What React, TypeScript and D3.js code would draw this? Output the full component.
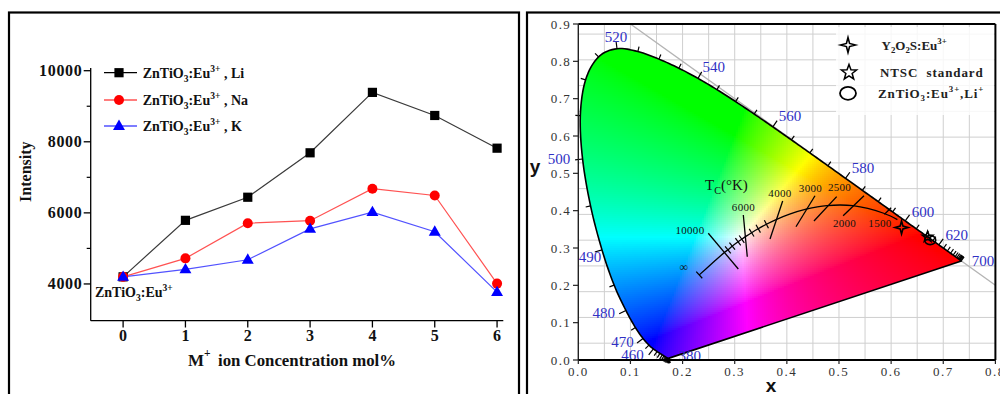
import React, { useMemo } from 'react';
import * as d3 from 'd3';

// ---------------- Left panel data ----------------
const concentrations = [0, 1, 2, 3, 4, 5, 6];
const liIntensity = [4200, 5790, 6440, 7690, 9390, 8740, 7820];
const naIntensity = [4200, 4720, 5710, 5780, 6680, 6490, 4010];
const kIntensity = [4200, 4410, 4680, 5550, 6020, 5470, 3770];
const intensityTicks = [4000, 6000, 8000, 10000];
const intensityMinorTicks = [5000, 7000, 9000];
const concentrationTicks = [0, 1, 2, 3, 4, 5, 6];
const seriesIons = ['Li', 'Na', 'K'];

// ---------------- Right panel data (CIE 1931) ----------------
const locusNm = [380, 385, 390, 395, 400, 405, 410, 415, 420, 425, 430, 435, 440, 445, 450, 455, 460, 465, 470, 475, 480, 485, 490, 495, 500, 505, 510, 515, 520, 525, 530, 535, 540, 545, 550, 555, 560, 565, 570, 575, 580, 585, 590, 595, 600, 605, 610, 615, 620, 625, 630, 635, 640, 645, 650, 655, 660, 665, 670, 680, 690, 700];
const locusX = [0.1741, 0.1740, 0.1738, 0.1736, 0.1733, 0.1730, 0.1726, 0.1721, 0.1714, 0.1703, 0.1689, 0.1669, 0.1644, 0.1611, 0.1566, 0.1510, 0.1440, 0.1355, 0.1241, 0.1096, 0.0913, 0.0687, 0.0454, 0.0235, 0.0082, 0.0039, 0.0139, 0.0389, 0.0743, 0.1142, 0.1547, 0.1929, 0.2296, 0.2658, 0.3016, 0.3373, 0.3731, 0.4087, 0.4441, 0.4788, 0.5125, 0.5448, 0.5752, 0.6029, 0.6270, 0.6482, 0.6658, 0.6801, 0.6915, 0.7006, 0.7079, 0.7140, 0.7190, 0.7230, 0.7260, 0.7283, 0.7300, 0.7311, 0.7320, 0.7334, 0.7344, 0.7347];
const locusY = [0.0050, 0.0050, 0.0049, 0.0049, 0.0048, 0.0048, 0.0048, 0.0048, 0.0051, 0.0058, 0.0069, 0.0086, 0.0109, 0.0138, 0.0177, 0.0227, 0.0297, 0.0399, 0.0578, 0.0868, 0.1327, 0.2007, 0.2950, 0.4127, 0.5384, 0.6548, 0.7502, 0.8120, 0.8338, 0.8262, 0.8059, 0.7816, 0.7543, 0.7243, 0.6923, 0.6589, 0.6245, 0.5896, 0.5547, 0.5202, 0.4866, 0.4544, 0.4242, 0.3965, 0.3725, 0.3514, 0.3340, 0.3197, 0.3083, 0.2993, 0.2920, 0.2859, 0.2809, 0.2770, 0.2740, 0.2717, 0.2700, 0.2689, 0.2680, 0.2666, 0.2656, 0.2653];

const nmLabels = [380, 460, 470, 480, 490, 500, 520, 540, 560, 580, 600, 620, 700];
const nmLabelX = [0.214, 0.104, 0.085, 0.049, 0.0225, -0.037, 0.0723, 0.260, 0.406, 0.546, 0.661, 0.726, 0.776];
const nmLabelY = [0.011, 0.0134, 0.049, 0.125, 0.277, 0.5376, 0.865, 0.786, 0.654, 0.5135, 0.397, 0.335, 0.265];

const planckT = [Infinity, 20000, 15000, 10000, 9000, 8000, 7000, 6500, 6000, 5500, 5000, 4500, 4000, 3500, 3000, 2500, 2000, 1500, 1300];
const planckX = [0.232, 0.2568, 0.2637, 0.2807, 0.2870, 0.2952, 0.3064, 0.3135, 0.3221, 0.3324, 0.3451, 0.3608, 0.3805, 0.4053, 0.4369, 0.4770, 0.5267, 0.5857, 0.612];
const planckY = [0.228, 0.2590, 0.2678, 0.2884, 0.2952, 0.3048, 0.3166, 0.3236, 0.3318, 0.3410, 0.3516, 0.3636, 0.3768, 0.3907, 0.4041, 0.4137, 0.4133, 0.3931, 0.376];
const planckSmallTicks = [Infinity, 9000, 8000, 7000, 6500, 5500, 5000, 4500];

const isoT = ['10000', '6000', '4000', '3000', '2500', '2000', '1500'];
const isoX1 = [0.2493, 0.3165, 0.392, 0.454, 0.4956, 0.548, 0.600];
const isoY1 = [0.3394, 0.3884, 0.426, 0.440, 0.4375, 0.440, 0.408];
const isoX2 = [0.3069, 0.3241, 0.3677, 0.4175, 0.452, 0.508, 0.587];
const isoY2 = [0.2438, 0.2767, 0.3241, 0.357, 0.3724, 0.3866, 0.390];
const isoLabels = ['10000', '6000', '4000', '3000', '2500', '2000', '1500', '\u221e'];
const isoLabelX = [0.2142, 0.3168, 0.3868, 0.4453, 0.501, 0.5106, 0.5786, 0.2027];
const isoLabelY = [0.348, 0.410, 0.4474, 0.4608, 0.4634, 0.3678, 0.3678, 0.249];

const cieTicksX = [0.0, 0.1, 0.2, 0.3, 0.4, 0.5, 0.6, 0.7, 0.8];
const cieTicksY = [0.0, 0.1, 0.2, 0.3, 0.4, 0.5, 0.6, 0.7, 0.8, 0.9];
const gridX = [0.05, 0.1, 0.15, 0.2, 0.25, 0.3, 0.35, 0.4, 0.45, 0.5, 0.55, 0.6, 0.65, 0.7, 0.75];
const gridY = [0.045, 0.114, 0.183, 0.252, 0.321, 0.39, 0.459, 0.528, 0.597, 0.666, 0.735, 0.804, 0.873];

const sampleNames = ['Y2O2S:Eu3+', 'NTSC standard', 'ZnTiO3:Eu3+,Li+'];
const sampleX = [0.620, 0.670, 0.675];
const sampleY = [0.355, 0.330, 0.321];

// ---------------- helpers ----------------
type Part = { t: string; s?: 'sub' | 'sup' };
function rich(parts: Part[], fs: number) {
  let cur = 0;
  return parts.map((p, i) => {
    const target = p.s === 'sub' ? fs * 0.3 : p.s === 'sup' ? -fs * 0.4 : 0;
    const dy = target - cur;
    cur = target;
    return (
      <tspan key={i} dy={dy} fontSize={p.s ? fs * 0.68 : fs}>
        {p.t}
      </tspan>
    );
  });
}

function chromaColor(x: number, y: number): string {
  const X = x / y;
  const Y = 1;
  const Z = (1 - x - y) / y;
  let r = 3.2406 * X - 1.5372 * Y - 0.4986 * Z;
  let g = -0.9689 * X + 1.8758 * Y + 0.0415 * Z;
  let b = 0.0557 * X - 0.204 * Y + 1.057 * Z;
  r = Math.max(0, r);
  g = Math.max(0, g);
  b = Math.max(0, b);
  const m = Math.max(r, g, b, 1e-6);
  const enc = (c: number) => Math.round(255 * Math.pow(c / m, 0.7));
  return `rgb(${enc(r)},${enc(g)},${enc(b)})`;
}

function densify(pts: [number, number][], n: number): [number, number][] {
  const out: [number, number][] = [];
  const L = pts.length;
  for (let i = 0; i < L - 1; i++) {
    const p0 = pts[Math.max(0, i - 1)], p1 = pts[i], p2 = pts[i + 1], p3 = pts[Math.min(L - 1, i + 2)];
    for (let k = 0; k < n; k++) {
      const t = k / n, t2 = t * t, t3 = t2 * t;
      const f = (a: number, b: number, c: number, d: number) =>
        0.5 * (2 * b + (-a + c) * t + (2 * a - 5 * b + 4 * c - d) * t2 + (-a + 3 * b - 3 * c + d) * t3);
      out.push([f(p0[0], p1[0], p2[0], p3[0]), f(p0[1], p1[1], p2[1], p3[1])]);
    }
  }
  out.push(pts[L - 1]);
  return out;
}

function star4(r: number, ri: number) {
  const pts: string[] = [];
  for (let i = 0; i < 8; i++) {
    const a = (i * Math.PI) / 4 - Math.PI / 2;
    const rr = i % 2 === 0 ? r : ri;
    pts.push(`${(rr * Math.cos(a)).toFixed(2)},${(rr * Math.sin(a)).toFixed(2)}`);
  }
  return 'M' + pts.join('L') + 'Z';
}
function star5(r: number, ri: number) {
  const pts: string[] = [];
  for (let i = 0; i < 10; i++) {
    const a = (i * Math.PI) / 5 - Math.PI / 2;
    const rr = i % 2 === 0 ? r : ri;
    pts.push(`${(rr * Math.cos(a)).toFixed(2)},${(rr * Math.sin(a)).toFixed(2)}`);
  }
  return 'M' + pts.join('L') + 'Z';
}

const SERIF = '"Liberation Serif", "Times New Roman", serif';
const SANS = '"Liberation Sans", Arial, sans-serif';

export default function App() {
  const xL = d3.scaleLinear().domain([-0.52, 6.1]).range([90.7, 503.3]);
  const yL = d3.scaleLinear().domain([2966, 10076]).range([320.7, 68]);
  const xR = d3.scaleLinear().domain([0, 0.8]).range([578.3, 995.4]);
  const yR = d3.scaleLinear().domain([0, 0.9]).range([360, 24]);

  const series = [liIntensity, naIntensity, kIntensity];
  const lineColors = ['#3a3a3a', '#ff5252', '#5252ff'];

  const lineGen = (vals: number[]) =>
    d3
      .line<number>()
      .x((_, i) => xL(concentrations[i]))
      .y((v) => yL(v))(vals) as string;

  const marker = (k: number, cx: number, cy: number, key: string) => {
    if (k === 0) return <rect key={key} x={cx - 4.6} y={cy - 4.6} width={9.2} height={9.2} fill="#000" />;
    if (k === 1) return <circle key={key} cx={cx} cy={cy} r={5} fill="#ff0000" />;
    const p = d3.symbol(d3.symbolTriangle, 62)() as string;
    return <path key={key} d={p} transform={`translate(${cx},${cy + 0.5})`} fill="#0000ff" />;
  };

  const locusPts: [number, number][] = locusX.map((x, i) => [xR(x), yR(locusY[i])]);
  const smoothLocus = densify(locusPts, 8);

  const cells = useMemo(() => {
    const out: { x: number; y: number; c: string }[] = [];
    const step = 2;
    const x0 = Math.floor(xR(0)), x1 = Math.ceil(xR(0.74));
    const y0 = Math.floor(yR(0.84)), y1 = Math.ceil(yR(0));
    for (let py = y0; py < y1; py += step) {
      for (let px = x0; px < x1; px += step) {
        const corners: [number, number][] = [
          [px - 1, py - 1], [px + step + 1, py - 1], [px - 1, py + step + 1], [px + step + 1, py + step + 1], [px + step / 2, py + step / 2],
        ];
        if (!corners.some((c) => d3.polygonContains(smoothLocus, c))) continue;
        const dx = xR.invert(px + step / 2);
        const dy = Math.max(0.003, yR.invert(py + step / 2));
        out.push({ x: px, y: py, c: chromaColor(dx, dy) });
      }
    }
    return out;
  }, []);

  const locusPath = 'M' + smoothLocus.map((p) => p[0].toFixed(2) + ',' + p[1].toFixed(2)).join('L') + 'Z';
  const planckPts: [number, number][] = planckX.map((x, i) => [xR(x), yR(planckY[i])]);
  const planckPath = d3.line().curve(d3.curveCatmullRom)(planckPts) as string;

  const center: [number, number] = [xR(0.33), yR(0.33)];
  const nmTicks = locusPts.map((p, i) => {
    if (i === 0 || i === locusPts.length - 1) return null;
    const a = locusPts[Math.max(0, i - 1)];
    const b = locusPts[Math.min(locusPts.length - 1, i + 1)];
    let tx = b[0] - a[0], ty = b[1] - a[1];
    const len = Math.hypot(tx, ty) || 1;
    tx /= len; ty /= len;
    let nx = -ty, ny = tx;
    if (nx * (p[0] - center[0]) + ny * (p[1] - center[1]) < 0) { nx = -nx; ny = -ny; }
    const L = nmLabels.includes(locusNm[i]) ? 7.5 : 5;
    return <line key={'nt' + i} x1={p[0]} y1={p[1]} x2={p[0] + nx * L} y2={p[1] + ny * L} stroke="#000" strokeWidth={1.2} />;
  });

  const planckTicks = planckSmallTicks.map((T, k) => {
    const i = planckT.indexOf(T);
    const p = planckPts[i];
    const a = planckPts[Math.max(0, i - 1)];
    const b = planckPts[Math.min(planckPts.length - 1, i + 1)];
    let tx = b[0] - a[0], ty = b[1] - a[1];
    const len = Math.hypot(tx, ty) || 1;
    tx /= len; ty /= len;
    const nx = -ty, ny = tx;
    const L = 4.5;
    return <line key={'pt' + k} x1={p[0] - nx * L} y1={p[1] - ny * L} x2={p[0] + nx * L} y2={p[1] + ny * L} stroke="#000" strokeWidth={1.2} />;
  });

  const zn = (ion: string): Part[] => [{ t: 'ZnTiO' }, { t: '3', s: 'sub' }, { t: ':Eu' }, { t: '3+', s: 'sup' }, { t: ion }];
  const rightLegendParts: Part[][] = [
    [{ t: 'Y' }, { t: '2', s: 'sub' }, { t: 'O' }, { t: '2', s: 'sub' }, { t: 'S:Eu' }, { t: '3+', s: 'sup' }],
    [{ t: 'NTSC  standard' }],
    [{ t: 'ZnTiO' }, { t: '3', s: 'sub' }, { t: ':Eu' }, { t: '3+', s: 'sup' }, { t: ',Li' }, { t: '+', s: 'sup' }],
  ];

  return (
    <svg width={1000} height={394} style={{ position: 'absolute', left: 0, top: 0, display: 'block', background: '#fff' }}>
      <defs>
        <clipPath id="locusClip">
          <path d={locusPath} />
        </clipPath>
        <clipPath id="plotClip">
          <rect x={578.3} y={24} width={417.1} height={336} />
        </clipPath>
      </defs>
      <rect x={0} y={0} width={1000} height={394} fill="#fff" />

      {/* ===== Left panel ===== */}
      <rect x={9} y={12.5} width={510} height={400} fill="none" stroke="#000" strokeWidth={2.2} />
      <line x1={xL.range()[0]} y1={68} x2={xL.range()[0]} y2={320.7} stroke="#000" strokeWidth={1.3} />
      <line x1={xL.range()[0]} y1={320.7} x2={xL.range()[1]} y2={320.7} stroke="#000" strokeWidth={1.3} />
      {intensityTicks.map((t) => (
        <g key={'yt' + t}>
          <line x1={xL.range()[0] - 7} x2={xL.range()[0]} y1={yL(t)} y2={yL(t)} stroke="#000" strokeWidth={1.3} />
          <text x={82.5} y={yL(t)} textAnchor="end" dominantBaseline="central" fontFamily={SERIF} fontWeight="bold" fontSize={16} letterSpacing={0.7} fill="#111">
            {t}
          </text>
        </g>
      ))}
      {intensityMinorTicks.map((t) => (
        <line key={'ym' + t} x1={xL.range()[0] - 4} x2={xL.range()[0]} y1={yL(t)} y2={yL(t)} stroke="#000" strokeWidth={1.2} />
      ))}
      {concentrationTicks.map((t) => (
        <g key={'xt' + t}>
          <line x1={xL(t)} x2={xL(t)} y1={320.7} y2={327.5} stroke="#000" strokeWidth={1.3} />
          <text x={xL(t)} y={335} textAnchor="middle" dominantBaseline="central" fontFamily={SERIF} fontWeight="bold" fontSize={16} fill="#111">
            {t}
          </text>
        </g>
      ))}
      <text x={188} y={360} dominantBaseline="central" fontFamily={SERIF} fontWeight="bold" fontSize={17} fill="#111" style={{ whiteSpace: 'pre' }}>
        {rich([{ t: 'M' }, { t: '+', s: 'sup' }], 17)}
      </text>
      <text x={218} y={360} dominantBaseline="central" fontFamily={SERIF} fontWeight="bold" fontSize={16.8} fill="#111">
        ion Concentration mol%
      </text>
      <text transform="translate(25,171.7) rotate(-90)" textAnchor="middle" dominantBaseline="central" fontFamily={SERIF} fontWeight="bold" fontSize={16} fill="#111">
        Intensity
      </text>

      {series.map((vals, k) => (
        <path key={'ln' + k} d={lineGen(vals)} fill="none" stroke={lineColors[k]} strokeWidth={1.2} />
      ))}
      {series.map((vals, k) => vals.map((v, i) => marker(k, xL(concentrations[i]), yL(v), `m${k}-${i}`)))}

      {seriesIons.map((ion, k) => {
        const ly = [72.7, 100, 126][k];
        return (
          <g key={'lg' + k}>
            <line x1={104} x2={137} y1={ly} y2={ly} stroke={k === 0 ? '#000' : lineColors[k]} strokeWidth={1.3} />
            {marker(k, 119, ly, 'lgm' + k)}
            <text x={142.7} y={ly + 5} fontFamily={SERIF} fontWeight="bold" fontSize={14} fill="#111" style={{ whiteSpace: 'pre' }}>
              {rich(zn(' , ' + ion), 14)}
            </text>
          </g>
        );
      })}
      <text x={95} y={297} fontFamily={SERIF} fontWeight="bold" fontSize={14} fill="#111">
        {rich([{ t: 'ZnTiO' }, { t: '3', s: 'sub' }, { t: ':Eu' }, { t: '3+', s: 'sup' }], 14)}
      </text>

      {/* ===== Right panel ===== */}
      <rect x={527} y={12.5} width={480} height={400} fill="none" stroke="#000" strokeWidth={2.2} />
      <g clipPath="url(#plotClip)">
        {gridX.map((g) => (
          <line key={'gx' + g} x1={xR(g)} x2={xR(g)} y1={24} y2={360} stroke="#cfcfcf" strokeWidth={1} />
        ))}
        {gridY.map((g) => (
          <line key={'gy' + g} x1={578.3} x2={995.4} y1={yR(g)} y2={yR(g)} stroke="#cfcfcf" strokeWidth={1} />
        ))}
        <line x1={xR(0.1)} y1={yR(0.9)} x2={xR(0.8)} y2={yR(0.2)} stroke="#b4b4b4" strokeWidth={1.3} />
      </g>
      <rect x={836} y={27} width={158} height={88} fill="#fff" opacity={0.82} />

      <g clipPath="url(#locusClip)" shapeRendering="crispEdges">
        {cells.map((c, i) => (
          <rect key={i} x={c.x} y={c.y} width={2.2} height={2.2} fill={c.c} />
        ))}
      </g>
      <path d={locusPath} fill="none" stroke="#000" strokeWidth={1.6} strokeLinejoin="round" />
      {nmTicks}
      {nmLabels.map((nm, i) => (
        <text key={'nl' + nm} x={xR(nmLabelX[i])} y={yR(nmLabelY[i])} textAnchor="middle" dominantBaseline="central" fontFamily={SERIF} fontSize={15} fill="#3030c4">
          {nm}
        </text>
      ))}

      <path d={planckPath} fill="none" stroke="#000" strokeWidth={1.3} />
      {planckTicks}
      {isoT.map((t, i) => (
        <line key={'iso' + t} x1={xR(isoX1[i])} y1={yR(isoY1[i])} x2={xR(isoX2[i])} y2={yR(isoY2[i])} stroke="#000" strokeWidth={1.3} />
      ))}
      {isoLabels.map((l, i) => (
        <text key={'il' + i} x={xR(isoLabelX[i])} y={yR(isoLabelY[i])} textAnchor="middle" dominantBaseline="central" fontFamily={SERIF} fontSize={l === '\u221e' ? 12 : 11} letterSpacing={0.3} fill="#111">
          {l}
        </text>
      ))}
      <text x={705} y={185} dominantBaseline="central" fontFamily={SERIF} fontSize={15} fill="#111">
        {rich([{ t: 'T' }, { t: 'C', s: 'sub' }, { t: '(°K)' }], 15)}
      </text>

      <path d={star4(6.5, 2)} transform={`translate(${xR(sampleX[0])},${yR(sampleY[0])})`} fill="none" stroke="#000" strokeWidth={1.6} />
      <path d={star5(5.5, 2.3)} transform={`translate(${xR(sampleX[1])},${yR(sampleY[1])})`} fill="none" stroke="#000" strokeWidth={1.6} />
      <ellipse cx={xR(sampleX[2])} cy={yR(sampleY[2])} rx={5.5} ry={4.5} fill="none" stroke="#000" strokeWidth={1.6} />

      <path d={star4(7.5, 2.2)} transform="translate(848,45)" fill="none" stroke="#000" strokeWidth={1.6} />
      <path d={star5(8, 3.3)} transform="translate(849,72.5)" fill="none" stroke="#000" strokeWidth={1.5} />
      <ellipse cx={848} cy={93.3} rx={8} ry={6.5} fill="none" stroke="#000" strokeWidth={1.8} />
      {rightLegendParts.map((parts, i) => (
        <text key={'rl' + i} x={[881.5, 880, 878][i]} y={[45, 72, 93][i] + 4.5} fontFamily={SERIF} fontWeight="bold" fontSize={13} letterSpacing={i === 0 ? 0 : 0.9} fill="#222" style={{ whiteSpace: 'pre' }} aria-label={sampleNames[i]}>
          {rich(parts, 13)}
        </text>
      ))}

      <line x1={578.3} y1={24} x2={995.4} y2={24} stroke="#000" strokeWidth={2} />
      <line x1={995.4} y1={24} x2={995.4} y2={360} stroke="#000" strokeWidth={2} />
      <line x1={578.3} y1={24} x2={578.3} y2={360} stroke="#222" strokeWidth={1.4} />
      <line x1={578.3} y1={360} x2={995.4} y2={360} stroke="#000" strokeWidth={2} />
      {cieTicksY.map((t) => (
        <g key={'cy' + t}>
          <line x1={573} x2={578.3} y1={yR(t)} y2={yR(t)} stroke="#222" strokeWidth={1.2} />
          <text x={571} y={yR(t)} textAnchor="end" dominantBaseline="central" fontFamily={SERIF} fontSize={13} letterSpacing={1.3} fill="#333">
            {t.toFixed(1)}
          </text>
        </g>
      ))}
      {cieTicksX.map((t) => (
        <g key={'cx' + t}>
          <line x1={xR(t)} x2={xR(t)} y1={360} y2={364} stroke="#222" strokeWidth={1.2} />
          <text x={xR(t)} y={371} textAnchor="middle" dominantBaseline="central" fontFamily={SERIF} fontSize={13} letterSpacing={1.5} fill="#333">
            {t.toFixed(1)}
          </text>
        </g>
      ))}
      <text x={771} y={385} textAnchor="middle" dominantBaseline="central" fontFamily={SANS} fontWeight="bold" fontSize={19} fill="#111">
        x
      </text>
      <text x={535} y={166} textAnchor="middle" dominantBaseline="central" fontFamily={SANS} fontWeight="bold" fontSize={19} fill="#111">
        y
      </text>
    </svg>
  );
}
